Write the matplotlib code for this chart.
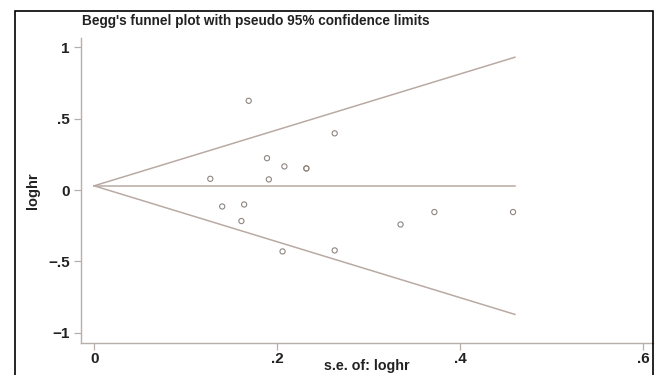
import matplotlib
matplotlib.use("Agg")
import matplotlib.pyplot as plt
import numpy as np
from matplotlib.patches import Rectangle

# study standard errors and log hazard ratios
se = [0.127, 0.140, 0.161, 0.164, 0.169, 0.189, 0.191, 0.206, 0.208, 0.232, 0.232,
      0.263, 0.263, 0.335, 0.372, 0.458]
loghr = [0.079, -0.115, -0.217, -0.101, 0.626, 0.224, 0.075, -0.430, 0.166, 0.152, 0.152,
         0.398, -0.423, -0.241, -0.154, -0.154]
theta = 0.03
se_max = 0.46

xticks = [0, 0.2, 0.4, 0.6]
xtick_labels = ["0", ".2", ".4", ".6"]
yticks = [-1, -0.5, 0, 0.5, 1]
ytick_labels = ["\u22121", "\u2212.5", "0", ".5", "1"]

line_col = "#b9aaa3"
axis_col = "#b8aeaa"

plt.rcParams["font.family"] = ["Liberation Sans", "DejaVu Sans"]

fig = plt.figure(figsize=(6.56, 3.75), dpi=100)
ax = fig.add_axes([0.123, 0.085, 0.8724, 0.8135])

s = np.array([0, se_max])
ax.plot(s, theta + 1.96 * s, color=line_col, lw=1.1)
ax.plot(s, theta - 1.96 * s, color=line_col, lw=1.1)
ax.plot(s, [theta, theta], color=line_col, lw=1.1)
ax.scatter(se, loghr, s=14, facecolors="none", edgecolors="#8f8580", linewidths=0.8, zorder=3)

ax.set_xlim(-0.0147, 0.611)
ax.set_ylim(-1.073, 1.066)
ax.set_xticks(xticks)
ax.set_xticklabels(xtick_labels)
ax.set_yticks(yticks)
ax.set_yticklabels(ytick_labels)

for side in ["top", "right"]:
    ax.spines[side].set_visible(False)
for side in ["left", "bottom"]:
    ax.spines[side].set_color(axis_col)
    ax.spines[side].set_linewidth(1.0)
ax.tick_params(colors=axis_col, length=5, width=0.9, labelcolor="#222222", labelsize=11, pad=3)
ax.tick_params(axis="x", pad=1.5)
for lab in ax.get_xticklabels() + ax.get_yticklabels():
    lab.set_fontweight("bold")

ax.set_xlabel("s.e. of: loghr", fontsize=10.3, fontweight="bold", color="#222222", labelpad=-5)
ax.set_ylabel("loghr", fontsize=10.5, fontweight="bold", color="#222222", labelpad=6)

fig.text(0.125, 0.945, "Begg's funnel plot with pseudo 95% confidence limits",
         fontsize=9.8, fontweight="bold", color="#222222", ha="left", va="center")

# black frame round the figure
fig.patches.append(Rectangle((15 / 656, -0.01), (653 - 15) / 656, 1 - 11 / 375 + 0.01,
                             transform=fig.transFigure, fill=False, edgecolor="black", lw=1.2))

fig.savefig("out.png", dpi=100)
